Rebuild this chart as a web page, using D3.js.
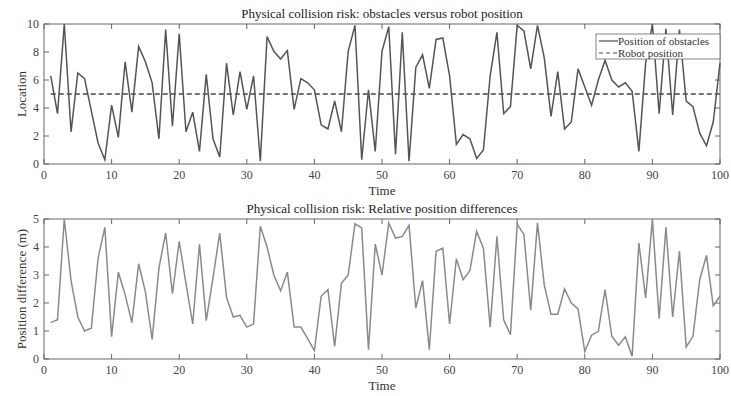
<!DOCTYPE html>
<html>
<head>
<meta charset="utf-8">
<script src="https://cdn.jsdelivr.net/npm/d3@7"></script>
<style>
body { margin: 0; background: #fff; }
svg text { font-family: "Liberation Serif", "Times New Roman", serif; }
</style>
</head>
<body>
<div id="chart"></div>
<script>
// obstacle positions, t = 1..100
var obstacles = [6.3,3.6,10,2.3,6.5,6.1,3.8,1.5,0.3,4.2,
  1.9,7.3,3.7,8.4,7.3,5.8,1.8,9.6,2.7,9.3,
  2.3,3.7,0.9,6.4,1.8,0.5,7.2,3.5,6.6,3.9,
  6.3,0.2,9.1,8.05,7.5,8.1,3.9,6.1,5.8,5.3,
  2.8,2.5,4.5,2.3,8.05,9.9,0.3,5.3,0.9,8.05,
  9.8,0.7,9.4,0.2,6.9,7.8,5.4,8.9,9.0,6.3,
  1.4,2.1,1.8,0.4,1.0,6.3,9.4,3.6,4.1,9.9,
  9.5,6.8,9.9,7.6,3.4,6.6,2.5,3.0,6.8,5.5,
  4.2,6.0,7.4,6.0,5.5,5.8,5.2,0.9,7.2,10,
  3.6,9.65,3.5,9.6,4.5,4.1,2.2,1.3,3.0,7.2];

var robot = 5;

// relative position differences, t = 1..100
var differences = [1.3,1.4,5.0,2.8,1.5,1.0,1.1,3.6,4.7,0.8,
  3.1,2.3,1.3,3.4,2.4,0.7,3.25,4.5,2.33,4.2,
  2.7,1.25,4.1,1.37,2.9,4.5,2.2,1.5,1.56,1.14,
  1.25,4.74,4.0,3.0,2.44,3.1,1.14,1.14,0.73,0.3,
  2.24,2.48,0.45,2.7,3.0,4.83,4.68,0.33,4.1,3.0,
  4.86,4.32,4.38,4.77,1.82,2.8,0.33,3.85,3.96,1.25,
  3.58,2.83,3.15,4.56,3.96,1.14,4.38,1.4,0.87,4.82,
  4.44,1.74,4.86,2.65,1.6,1.6,2.5,2.0,1.79,0.27,
  0.85,0.99,2.48,0.81,0.49,0.79,0.1,4.14,2.18,4.98,
  1.44,4.7,1.5,3.85,0.43,0.81,2.83,3.7,1.9,2.24];

var xTicks = [0,10,20,30,40,50,60,70,80,90,100];
var yTicksTop = [0,2,4,6,8,10];
var yTicksBottom = [0,1,2,3,4,5];

var width = 731, height = 396;
var svg = d3.select("#chart").append("svg")
  .attr("width", width).attr("height", height);

var x = d3.scaleLinear().domain([0, 100]).range([44, 720]);

function panel(top, bottom, yMax, yTicks, title, ylabel) {
  var y = d3.scaleLinear().domain([0, yMax]).range([bottom, top]);
  var g = svg.append("g");
  var axisColor = "#666";

  // box
  g.append("rect")
    .attr("x", x(0)).attr("y", top)
    .attr("width", x(100) - x(0)).attr("height", bottom - top)
    .attr("fill", "none").attr("stroke", axisColor).attr("stroke-width", 1);

  // inward ticks on all four sides
  var tl = 5;
  xTicks.forEach(function(t) {
    g.append("line").attr("x1", x(t)).attr("x2", x(t)).attr("y1", bottom).attr("y2", bottom - tl)
      .attr("stroke", axisColor);
    g.append("line").attr("x1", x(t)).attr("x2", x(t)).attr("y1", top).attr("y2", top + tl)
      .attr("stroke", axisColor);
    g.append("text").attr("x", x(t)).attr("y", bottom + 15)
      .attr("text-anchor", "middle").attr("font-size", 12).attr("fill", "#444").text(t);
  });
  yTicks.forEach(function(t) {
    g.append("line").attr("x1", x(0)).attr("x2", x(0) + tl).attr("y1", y(t)).attr("y2", y(t))
      .attr("stroke", axisColor);
    g.append("line").attr("x1", x(100)).attr("x2", x(100) - tl).attr("y1", y(t)).attr("y2", y(t))
      .attr("stroke", axisColor);
    g.append("text").attr("x", x(0) - 5).attr("y", y(t) + 4)
      .attr("text-anchor", "end").attr("font-size", 12).attr("fill", "#444").text(t);
  });

  g.append("text").attr("x", (x(0) + x(100)) / 2).attr("y", top - 6)
    .attr("text-anchor", "middle").attr("font-size", 13).attr("fill", "#222").text(title);
  g.append("text").attr("x", (x(0) + x(100)) / 2).attr("y", bottom + 31)
    .attr("text-anchor", "middle").attr("font-size", 13).attr("fill", "#333").text("Time");
  g.append("text")
    .attr("transform", "translate(26," + (top + bottom) / 2 + ") rotate(-90)")
    .attr("text-anchor", "middle").attr("font-size", 13).attr("fill", "#333").text(ylabel);
  return { g: g, y: y };
}

// top panel
var p1 = panel(24, 164, 10, yTicksTop,
  "Physical collision risk: obstacles versus robot position", "Location");

var line1 = d3.line().x(function(d, i) { return x(i + 1); }).y(function(d) { return p1.y(d); });
p1.g.append("line")
  .attr("x1", x(1)).attr("x2", x(100)).attr("y1", p1.y(robot)).attr("y2", p1.y(robot))
  .attr("stroke", "#444").attr("stroke-width", 1.3).attr("stroke-dasharray", "5,3");
p1.g.append("path").datum(obstacles).attr("d", line1)
  .attr("fill", "none").attr("stroke", "#555").attr("stroke-width", 1.5);

// legend
var lg = p1.g.append("g");
lg.append("rect").attr("x", 596).attr("y", 34).attr("width", 124).attr("height", 25)
  .attr("fill", "#fff").attr("stroke", "#666").attr("stroke-width", 0.8);
lg.append("line").attr("x1", 599).attr("x2", 618).attr("y1", 41).attr("y2", 41)
  .attr("stroke", "#555").attr("stroke-width", 1.3);
lg.append("line").attr("x1", 599).attr("x2", 618).attr("y1", 53).attr("y2", 53)
  .attr("stroke", "#444").attr("stroke-width", 1.2).attr("stroke-dasharray", "4,3");
lg.append("text").attr("x", 618).attr("y", 45).attr("font-size", 11).attr("fill", "#333")
  .text("Position of obstacles");
lg.append("text").attr("x", 618).attr("y", 57).attr("font-size", 11).attr("fill", "#333")
  .text("Robot position");

// bottom panel
var p2 = panel(219, 359, 5, yTicksBottom,
  "Physical collision risk: Relative position differences", "Position difference (m)");
var line2 = d3.line().x(function(d, i) { return x(i + 1); }).y(function(d) { return p2.y(d); });
p2.g.append("path").datum(differences).attr("d", line2)
  .attr("fill", "none").attr("stroke", "#8a8a8a").attr("stroke-width", 1.5);
</script>
</body>
</html>
